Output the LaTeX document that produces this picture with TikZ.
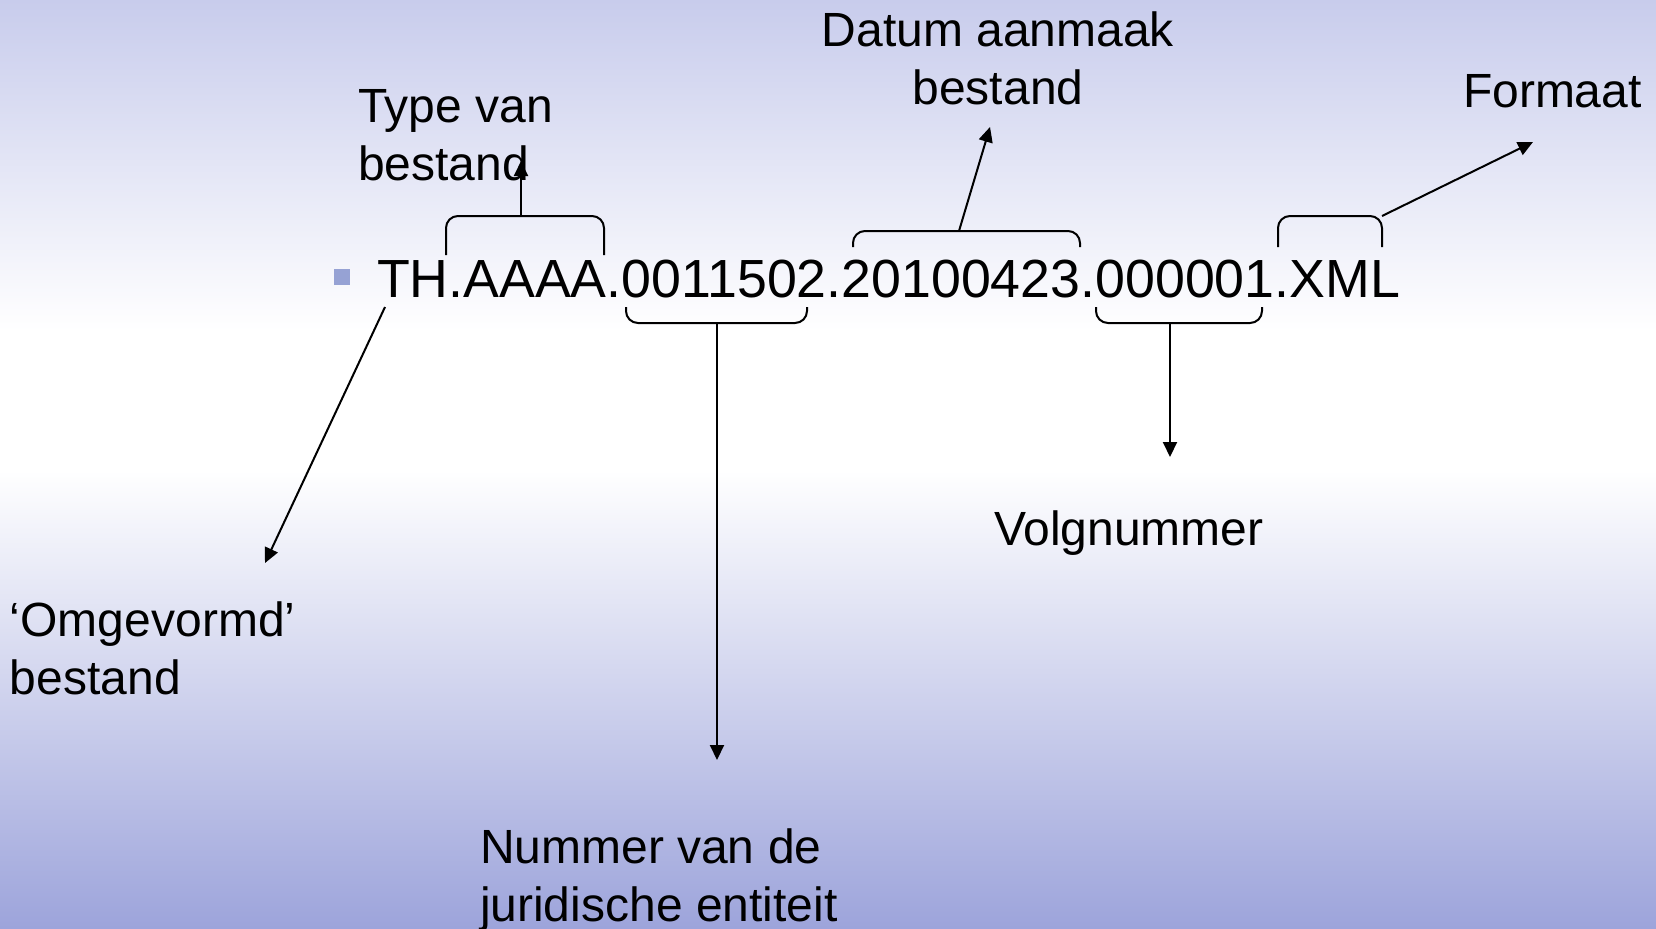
\documentclass[tikz,border=0pt]{standalone}
\usepackage{fontspec}
\setmainfont{Liberation Sans}
\usetikzlibrary{arrows.meta}
\definecolor{bgtop}{RGB}{200,204,236}
\definecolor{bgbot}{RGB}{157,164,219}
\definecolor{bulletc}{RGB}{150,162,212}
\newcommand{\twoL}[2]{\vtop{\baselineskip=29pt\hbox{#1}\hbox{#2}}}
\newcommand{\twoC}[2]{\vtop{\baselineskip=29pt\halign{\hfil##\hfil\cr#1\cr#2\cr}}}
\begin{document}
\begin{tikzpicture}[x=0.5pt,y=-0.5pt,
  lbl/.style={inner sep=0pt,outer sep=0pt,font=\fontsize{24pt}{29pt}\selectfont},
  maintext/.style={inner sep=0pt,outer sep=0pt,font=\fontsize{26.85pt}{32pt}\selectfont},
  brace/.style={line width=1pt,rounded corners=6pt},
  arr/.style={line width=1pt,-{Triangle[length=7.5pt,width=7pt]}}]
\useasboundingbox (0,0) rectangle (1656,928);
% background
\fill[top color=bgtop,bottom color=white] (0,0) rectangle (1656,331);
\fill[white] (0,330) rectangle (1656,471);
\fill[top color=white,bottom color=bgbot] (0,470) rectangle (1656,928);
% bullet
\fill[bulletc] (334,269) rectangle (350,285);
% main text
\node[maintext,anchor=base west] (code) at (377,297) {TH.AAAA.0011502.20100423.000001.XML};
% labels
\node[lbl,anchor=base west] (typeL) at (358,122) {\twoL{Type van}{bestand}};
\node[lbl,anchor=base] (datumL) at (998,46) {\twoC{Datum aanmaak}{bestand}};
\node[lbl,anchor=base west] (formaatL) at (1463,107) {Formaat};
\node[lbl,anchor=base west] (volgL) at (994,545) {Volgnummer};
\node[lbl,anchor=base west] (omgL) at (10,636) {\twoL{‘Omgevormd’}{bestand}};
\node[lbl,anchor=base west] (nummerL) at (480,863) {\twoL{Nummer van de}{juridische entiteit}};
% braces
\draw[brace] (446,255) -- (446,216) -- (604,216) -- (604,255);
\draw[brace] (626,307) -- (626,323) -- (807,323) -- (807,307);
\draw[brace] (853,247) -- (853,231) -- (1080,231) -- (1080,247);
\draw[brace] (1096,307) -- (1096,323) -- (1262,323) -- (1262,307);
\draw[brace] (1278,247) -- (1278,216) -- (1382,216) -- (1382,247);
% stems and tips
\coordinate (s1) at (521,216);
\coordinate (t1) at (521,161);
\coordinate (s2) at (717,323);
\coordinate (t2) at (717,760);
\coordinate (s3) at (959,231);
\coordinate (t3) at (990,127);
\coordinate (s4) at (1170,323);
\coordinate (t4) at (1170,457);
\coordinate (s5) at (1382,216);
\coordinate (t5) at (1533,142);
\coordinate (s0) at (385,307);
\coordinate (t0) at (265,563);
\draw[arr] (s1) -- (t1);
\draw[arr] (s2) -- (t2);
\draw[arr] (s3) -- (t3);
\draw[arr] (s4) -- (t4);
\draw[arr] (s5) -- (t5);
\draw[arr] (s0) -- (t0);
\end{tikzpicture}
\end{document}
